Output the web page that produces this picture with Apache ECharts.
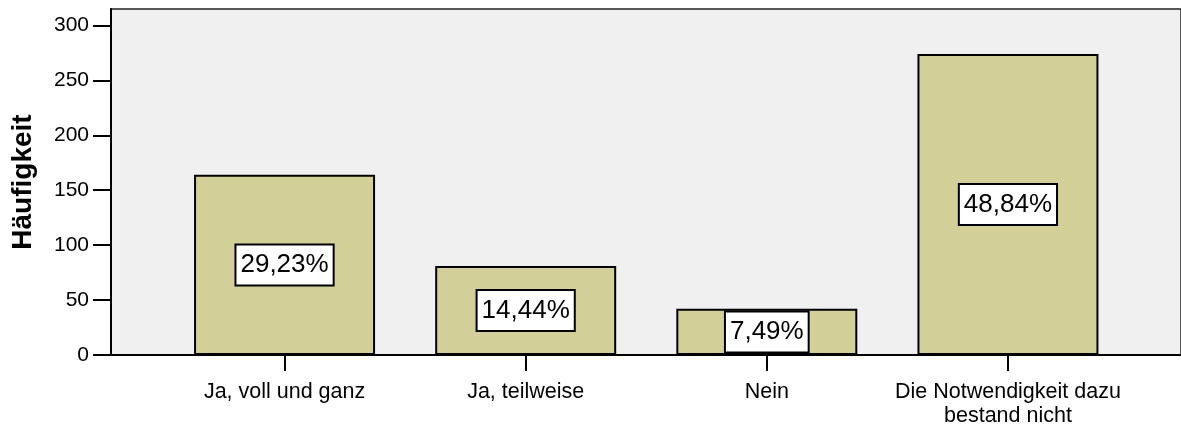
<!DOCTYPE html>
<html>
<head>
<meta charset="utf-8">
<script src="https://cdn.jsdelivr.net/npm/echarts@6/dist/echarts.min.js"></script>
<style>
html,body{margin:0;padding:0;background:#fff;}
#chart{width:1181px;height:432px;}
</style>
</head>
<body>
<div id="chart"></div>
<script>
const categories = ['Ja, voll und ganz', 'Ja, teilweise', 'Nein', 'Die Notwendigkeit dazu\nbestand nicht'];
const counts = [164, 81, 42, 274];
const percentLabels = ['29,23%', '14,44%', '7,49%', '48,84%'];
const yTicks = [0, 50, 100, 150, 200, 250, 300];
const yMax = 315;

const FONT = 'Liberation Sans, Arial, Helvetica, sans-serif';
const chart = echarts.init(document.getElementById('chart'), null, {renderer: 'canvas'});

chart.setOption({
  animation: false,
  backgroundColor: '#ffffff',
  textStyle: {fontFamily: FONT},
  grid: [
    {left: 111, right: -3, top: 9, bottom: 77, show: true, backgroundColor: '#f0f0f0', borderColor: '#222', borderWidth: 1.5},
    {left: 164, right: 52.5, top: 9, bottom: 77}
  ],
  xAxis: [
    {gridIndex: 0, type: 'value', min: 0, max: 1, position: 'bottom',
     axisLine: {show: true, lineStyle: {color: '#000', width: 2}},
     axisTick: {show: false}, axisLabel: {show: false}, splitLine: {show: false}},
    {gridIndex: 1, type: 'category', data: categories, position: 'bottom',
     axisLine: {show: false},
     axisTick: {show: true, alignWithLabel: true, length: 16, lineStyle: {color: '#000', width: 2}},
     axisLabel: {show: true, interval: 0, color: '#000', fontSize: 21.5, lineHeight: 24, margin: 25, fontFamily: FONT, align: 'center'},
     splitLine: {show: false}}
  ],
  yAxis: [
    {gridIndex: 0, type: 'value', min: 0, max: yMax,
     name: 'Häufigkeit', nameLocation: 'middle', nameRotate: 90, nameGap: 74,
     nameTextStyle: {fontSize: 28, fontWeight: 'bold', color: '#000', fontFamily: FONT},
     axisLine: {show: true, lineStyle: {color: '#000', width: 2}},
     axisTick: {show: true, customValues: yTicks, length: 18, lineStyle: {color: '#000', width: 2}},
     axisLabel: {show: true, customValues: yTicks, color: '#000', fontSize: 21, margin: 22, fontFamily: FONT},
     splitLine: {show: false}},
    {gridIndex: 1, type: 'value', min: 0, max: yMax, show: false, splitLine: {show: false}}
  ],
  series: [{
    type: 'bar',
    xAxisIndex: 1,
    yAxisIndex: 1,
    data: counts,
    barWidth: 181,
    itemStyle: {color: '#d3cf98', borderColor: '#000', borderWidth: 2},
    label: {
      show: true,
      position: 'inside',
      formatter: p => percentLabels[p.dataIndex],
      color: '#000',
      fontSize: 26,
      lineHeight: 30,
      fontFamily: FONT,
      backgroundColor: '#fff',
      borderColor: '#000',
      borderWidth: 2,
      padding: [5, 4, 4, 4]
    }
  }]
});
</script>
</body>
</html>
